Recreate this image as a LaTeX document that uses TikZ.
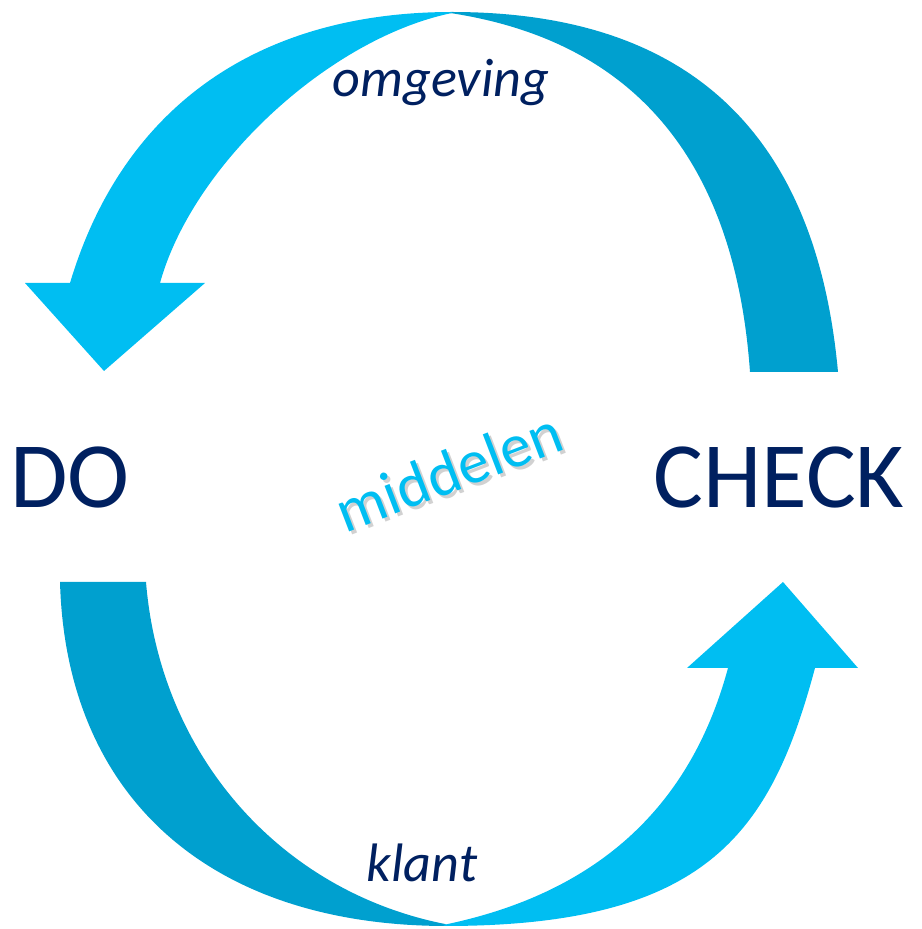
\documentclass[tikz,border=0pt]{standalone}
\usepackage{fontspec}
\setmainfont{Carlito}
\usepackage{tikz}

\definecolor{sky}{RGB}{0,190,242}
\definecolor{ocean}{RGB}{0,160,207}
\definecolor{navy}{RGB}{0,32,96}

\tikzset{
  arrow front/.style={fill=sky},
  arrow back/.style={fill=ocean},
  big label/.style={text=navy, inner sep=0pt, font=\fontsize{26.6}{30}\selectfont},
  small label/.style={text=navy, inner sep=0pt, anchor=base, font=\fontsize{15.4}{18}\selectfont\itshape},
  tilted label/.style={inner sep=0pt, anchor=base, rotate=21, font=\fontsize{17.6}{20}\selectfont}
}

\begin{document}
\begin{tikzpicture}
    \useasboundingbox (0,0) rectangle (9.22,9.29);
    % upper arrow, back side
    \fill[arrow back] (4.52,9.17) .. controls (6.88,9.17) and (8.16,7.97) .. (8.38,5.57)
        -- (7.50,5.57) .. controls (7.35,7.68) and (6.35,8.88) .. (4.50,9.16) -- cycle;
    % upper arrow, front side with head
    \fill[arrow front] (4.52,9.17) .. controls (2.59,9.17) and (1.23,8.23) .. (0.70,6.46)
        -- (0.25,6.46) -- (1.04,5.58) -- (2.05,6.46) -- (1.60,6.46)
        .. controls (1.93,7.65) and (3.30,8.91) .. (4.52,9.16) -- cycle;
    % lower arrow, back side
    \fill[arrow back] (0.60,3.47) .. controls (0.66,1.31) and (2.11,0.03) .. (4.47,0.03)
        -- (4.45,0.05) .. controls (2.79,0.38) and (1.60,1.75) .. (1.46,3.47) -- cycle;
    % lower arrow, front side with head
    \fill[arrow front] (4.45,0.03) .. controls (7.08,0.03) and (7.71,0.97) .. (8.15,2.61)
        -- (8.58,2.61) -- (7.83,3.47) -- (6.87,2.61) -- (7.28,2.61)
        .. controls (6.90,1.20) and (5.95,0.35) .. (4.43,0.04) -- cycle;

    \node[big label] (do) at (0.70,4.52) {DO};
    \node[big label] (check) at (7.79,4.52) {CHECK};
    \node[small label] (omgeving) at (4.41,8.32) {omgeving};
    \node[small label] (klant) at (4.22,0.48) {klant};

    % tilted word in the middle, with a soft shadow
    \node[tilted label, text=black, opacity=0.18] (middelen shadow) at (4.59,4.35) {middelen};
    \node[tilted label, text=sky] (middelen) at (4.56,4.38) {middelen};
\end{tikzpicture}
\end{document}
